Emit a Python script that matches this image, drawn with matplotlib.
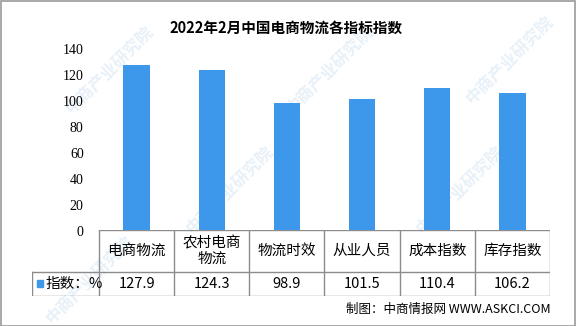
import numpy as np
import matplotlib.pyplot as plt
from matplotlib.patches import Rectangle

plt.rcParams['font.family'] = ['Noto Sans CJK SC', 'DejaVu Sans']

# data
categories = ['电商物流', '农村电商\n物流', '物流时效', '从业人员', '成本指数', '库存指数']
values = [127.9, 124.3, 98.9, 101.5, 110.4, 106.2]
series_name = '指数：%'
yticks = [0, 20, 40, 60, 80, 100, 120, 140]

W, H = 576, 326
blue = '#3d97ea'
grid_c = '#8c8c8c'

fig = plt.figure(figsize=(W / 100, H / 100), dpi=100)

def box(l, t, r, b):
    # pixel box -> figure fraction rect
    return [l / W, 1 - b / H, (r - l) / W, (b - t) / H]

# faint watermarks
for (x, y) in [(110, 70), (330, 70), (230, 190), (460, 190), (90, 280), (510, 60)]:
    fig.text(x / W, 1 - y / H, '中商产业研究院', rotation=45, color='#e8f0f8',
             fontsize=12, fontweight='bold', ha='center', va='center', zorder=-5)

ax = fig.add_axes(box(99, 49.5, 550, 231))
x = np.arange(len(values)) + 0.5
ax.bar(x, values, width=0.35, color=blue, zorder=2)
ax.set_xlim(0, len(values))
ax.set_ylim(0, 140)
ax.set_yticks(yticks)
ax.set_yticklabels([str(v) for v in yticks], family='Liberation Serif', fontsize=10)
ax.tick_params(axis='y', length=0, pad=11)
ax.set_xticks([])
for s in ax.spines.values():
    s.set_visible(False)
ax.patch.set_alpha(0)

# table below the bars
tax = fig.add_axes(box(32, 230, 550, 296))
tax.patch.set_alpha(0)
lc = -67 / 75.17
tax.set_xlim(lc, len(values))
tax.set_ylim(0, 66)
tax.axis('off')
lw = 1.0
tax.plot([0, len(values)], [66, 66], color=grid_c, lw=lw)
tax.plot([lc, len(values)], [24, 24], color=grid_c, lw=lw)
tax.plot([lc, len(values)], [0, 0], color=grid_c, lw=lw)
tax.plot([lc, lc], [0, 24], color=grid_c, lw=lw)
for i in range(len(values) + 1):
    tax.plot([i, i], [0, 66], color=grid_c, lw=lw)
for i, (c, v) in enumerate(zip(categories, values)):
    tax.text(i + 0.5, 45, c, ha='center', va='center', fontsize=10.5, linespacing=1.1)
    tax.text(i + 0.5, 12, f'{v:.1f}', ha='center', va='center', fontsize=10.5)
tax.add_patch(Rectangle((lc + 0.06, 9), 0.08, 7, color=blue, clip_on=False))
tax.text(lc + 0.18, 12, series_name, ha='left', va='center', fontsize=10.5)

fig.text(286 / W, 1 - 28 / H, '2022年2月中国电商物流各指标指数', ha='center', va='center',
         fontsize=10.5, fontweight='bold')
fig.text(551 / W, 1 - 309 / H, '制图：中商情报网 WWW.ASKCI.COM', ha='right', va='center',
         fontsize=9)

fig.add_artist(Rectangle((0.5 / W, 0.5 / H), 1 - 1.5 / W, 1 - 1.5 / H, transform=fig.transFigure,
                         fill=False, edgecolor='#999999', lw=1.2))

fig.savefig('out.png', dpi=100)
